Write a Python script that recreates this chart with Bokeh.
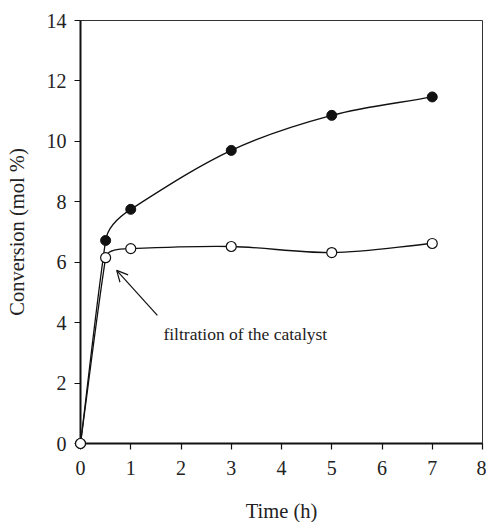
import math

from bokeh.plotting import figure
from bokeh.models import Arrow, OpenHead, Label, FixedTicker, Range1d
from bokeh.core.properties import value
from bokeh.embed import file_html
from bokeh.resources import INLINE

# Conversion vs. time for the reaction with and without the catalyst
time_h = [0, 0.5, 1, 3, 5, 7]
conv_with_catalyst = [0, 6.72, 7.75, 9.70, 10.86, 11.47]
conv_after_filtration = [0, 6.15, 6.45, 6.52, 6.32, 6.62]

x_ticks = [0, 1, 2, 3, 4, 5, 6, 7, 8]
y_ticks = [0, 2, 4, 6, 8, 10, 12, 14]

x_title = "Time (h)"
y_title = "Conversion (mol %)"
annotation_text = "filtration of the catalyst"
arrow_tail = (1.53, 4.24)
arrow_tip = (0.72, 5.73)
label_pos = (1.65, 3.63)

FONT = "Liberation Serif"

# layout of the figure (pixels)
W, H = 486, 522
BORDER_L, BORDER_R, BORDER_T, BORDER_B = 80, 4, 20, 79
X_MAX, Y_MAX = 8, 14
SX = (W - BORDER_L - BORDER_R) / X_MAX   # pixels per hour
SY = (H - BORDER_T - BORDER_B) / Y_MAX   # pixels per mol %
X_TITLE_CENTER = 67                      # pixels below the x axis


def smooth_segments(xs, ys, k=1 / 3):
    """Cubic Bezier pieces of a smooth curve through the points.

    Work in screen space: the tangent at each point leans toward the
    longer neighbouring chord, and each handle is a fixed fraction of
    its own segment, so long straight runs stay straight.
    """
    n = len(xs)
    P = [(x * SX, y * SY) for x, y in zip(xs, ys)]

    def chord(a, b):
        dx, dy = b[0] - a[0], b[1] - a[1]
        d = math.hypot(dx, dy)
        return d, (dx / d, dy / d)

    tangents = []
    for i in range(n):
        if i == 0:
            tangents.append(chord(P[0], P[1])[1])
        elif i == n - 1:
            tangents.append(chord(P[-2], P[-1])[1])
        else:
            da, ua = chord(P[i - 1], P[i])
            db, ub = chord(P[i], P[i + 1])
            tx = da * da * ua[0] + db * db * ub[0]
            ty = da * da * ua[1] + db * db * ub[1]
            t = math.hypot(tx, ty)
            tangents.append((tx / t, ty / t))

    seg = dict(x0=[], y0=[], x1=[], y1=[], cx0=[], cy0=[], cx1=[], cy1=[])
    for i in range(n - 1):
        a, b = P[i], P[i + 1]
        d = chord(a, b)[0] * k
        c1 = (a[0] + tangents[i][0] * d, a[1] + tangents[i][1] * d)
        c2 = (b[0] - tangents[i + 1][0] * d, b[1] - tangents[i + 1][1] * d)
        seg["x0"].append(a[0] / SX)
        seg["y0"].append(a[1] / SY)
        seg["x1"].append(b[0] / SX)
        seg["y1"].append(b[1] / SY)
        seg["cx0"].append(c1[0] / SX)
        seg["cy0"].append(c1[1] / SY)
        seg["cx1"].append(c2[0] / SX)
        seg["cy1"].append(c2[1] / SY)
    return seg


p = figure(
    width=W, height=H,
    output_backend="svg", toolbar_location=None,
    x_range=Range1d(0, X_MAX), y_range=Range1d(0, Y_MAX),
    min_border_left=BORDER_L, min_border_right=BORDER_R,
    min_border_top=BORDER_T, min_border_bottom=BORDER_B,
)
p.background_fill_color = "white"
p.border_fill_color = "white"
p.grid.visible = False
p.outline_line_color = "#333333"
p.outline_line_width = 1

for ax in (p.xaxis[0], p.yaxis[0]):
    ax.axis_line_width = 2
    ax.axis_line_color = "#111111"
    ax.major_tick_line_color = "#111111"
    ax.major_tick_line_width = 1.2
    ax.major_tick_out = 6
    ax.major_tick_in = 0
    ax.minor_tick_line_color = None
    ax.major_label_text_font = FONT
    ax.major_label_text_font_size = "20px"
    ax.major_label_text_color = "#222222"
    ax.axis_label_text_font = FONT
    ax.axis_label_text_font_size = "20.5px"
    ax.axis_label_text_font_style = "normal"
    ax.axis_label_text_color = "#222222"

p.xaxis.ticker = FixedTicker(ticks=x_ticks)
p.yaxis.ticker = FixedTicker(ticks=y_ticks)
p.yaxis.axis_label = y_title
p.xaxis.major_label_standoff = 11
p.yaxis.major_label_standoff = 8
p.yaxis.axis_label_standoff = 16

# smooth curves through the measured points
for ys in (conv_with_catalyst, conv_after_filtration):
    s = smooth_segments(time_h, ys)
    p.bezier(x0=s["x0"], y0=s["y0"], x1=s["x1"], y1=s["y1"],
             cx0=s["cx0"], cy0=s["cy0"], cx1=s["cx1"], cy1=s["cy1"],
             line_color="#111111", line_width=1.3)

# markers sit above the axes so the origin points stay whole
p.scatter(time_h, conv_with_catalyst, size=10, marker="circle",
          fill_color="#111111", line_color="#111111", line_width=1,
          level="overlay")
p.scatter(time_h, conv_after_filtration, size=10, marker="circle",
          fill_color="white", line_color="#111111", line_width=1.2,
          level="overlay")

p.add_layout(Arrow(
    end=OpenHead(size=11, line_width=1.2, line_color="#111111"),
    x_start=arrow_tail[0], y_start=arrow_tail[1],
    x_end=arrow_tip[0], y_end=arrow_tip[1],
    line_width=1.2, line_color="#111111",
))
p.add_layout(Label(
    x=label_pos[0], y=label_pos[1], text=annotation_text,
    text_font=FONT, text_font_size="17.5px", text_color="#222222",
    text_baseline="alphabetic", text_align="left",
))

# x-axis title, drawn below the tick labels
p.text(x=[X_MAX / 2], y=[-X_TITLE_CENTER / SY], text=[x_title],
       text_font=value(FONT), text_font_size="20.5px",
       text_color="#222222", text_baseline="middle",
       text_align="center", level="overlay")

open("out.html", "w").write(file_html(p, INLINE))
